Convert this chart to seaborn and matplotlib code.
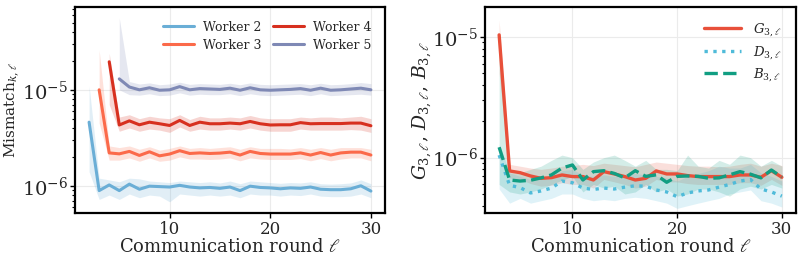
import numpy as np
import pandas as pd
import matplotlib
matplotlib.use("Agg")
import matplotlib.pyplot as plt
import seaborn as sns

# values (units of 1e-6)
rounds = np.arange(2, 31)

w2 = [4.6, 0.89, 1.02, 0.89, 1.04, 0.92, 0.99, 0.98, 0.97, 1.01, 0.97, 0.95, 0.96, 0.94, 0.97,
      0.89, 0.99, 0.96, 0.95, 0.93, 0.95, 0.94, 0.97, 0.92, 0.91, 0.91, 0.93, 1.0, 0.88]
w2_hi = [11.0, 1.2, 1.15, 1.1, 1.2, 1.18, 1.12, 1.1, 1.08, 1.12, 1.1, 1.08, 1.1, 1.07, 1.12,
         1.05, 1.12, 1.1, 1.08, 1.06, 1.08, 1.07, 1.1, 1.05, 1.04, 1.05, 1.07, 1.15, 1.05]
w2_lo = [1.4, 0.72, 0.8, 0.72, 0.82, 0.75, 0.8, 0.78, 0.68, 0.82, 0.8, 0.78, 0.8, 0.78, 0.8,
         0.75, 0.82, 0.8, 0.8, 0.78, 0.8, 0.79, 0.82, 0.78, 0.77, 0.77, 0.78, 0.82, 0.75]

w3 = [10.0, 2.2, 2.15, 2.28, 2.07, 2.26, 2.05, 2.14, 2.32, 2.17, 2.2, 2.17, 2.19, 2.24,
      2.09, 2.28, 2.17, 2.14, 2.14, 2.14, 2.2, 2.09, 2.22, 2.09, 2.2, 2.24, 2.24, 2.09]
w3_hi = [26, 2.6, 2.5, 2.6, 2.4, 2.55, 2.35, 2.45, 2.6, 2.45, 2.5, 2.45, 2.5, 2.55,
         2.4, 2.55, 2.45, 2.45, 2.45, 2.42, 2.5, 2.4, 2.5, 2.4, 2.5, 2.5, 2.5, 2.4]
w3_lo = [4.5, 1.85, 1.85, 1.95, 1.8, 1.95, 1.8, 1.85, 2.0, 1.9, 1.9, 1.88, 1.9, 1.95,
         1.82, 1.95, 1.9, 1.88, 1.88, 1.88, 1.92, 1.82, 1.92, 1.82, 1.9, 1.95, 1.95, 1.82]

w4 = [19.6, 4.3, 4.75, 4.32, 4.6, 4.43, 4.25, 4.8, 4.25, 4.6, 4.43, 4.43, 4.5, 4.43,
      4.68, 4.43, 4.3, 4.32, 4.32, 4.55, 4.43, 4.45, 4.45, 4.45, 4.5, 4.5, 4.22]
w4_hi = [24, 5.2, 5.5, 5.0, 5.3, 5.1, 5.0, 5.5, 4.9, 5.3, 5.1, 5.1, 5.2, 5.1,
         5.4, 5.1, 5.0, 5.0, 5.0, 5.2, 5.1, 5.2, 5.2, 5.1, 5.2, 5.3, 5.0]
w4_lo = [7.0, 3.7, 4.0, 3.7, 3.9, 3.8, 3.6, 4.1, 3.7, 3.9, 3.8, 3.8, 3.9, 3.8,
         4.0, 3.8, 3.7, 3.7, 3.7, 3.9, 3.8, 3.8, 3.8, 3.8, 3.85, 3.8, 3.6]

w5 = [13.0, 10.7, 10.0, 10.5, 9.9, 10.0, 10.8, 10.0, 10.3, 10.2, 10.1, 10.4, 9.9,
      10.5, 10.0, 9.9, 10.0, 10.1, 10.3, 9.9, 10.4, 9.9, 10.0, 10.2, 10.4, 10.0]
w5_hi = [56, 12.2, 11.5, 11.8, 11.3, 11.5, 12.0, 11.4, 11.6, 11.5, 11.4, 11.7, 11.3,
         11.8, 11.4, 11.3, 11.4, 11.5, 11.6, 11.3, 11.7, 11.3, 11.4, 11.6, 11.9, 11.6]
w5_lo = [10.0, 8.9, 8.8, 9.1, 8.7, 8.8, 9.3, 8.8, 9.0, 8.9, 8.9, 9.1, 8.7,
         9.1, 8.8, 8.7, 8.8, 8.9, 9.0, 8.7, 9.1, 8.7, 8.8, 8.9, 9.0, 8.8]

# worker 3 quantities, rounds 3..30
g3 = [10.4, 0.776, 0.751, 0.705, 0.674, 0.683, 0.719, 0.697, 0.697, 0.653, 0.766, 0.733, 0.697, 0.653,
      0.674, 0.776, 0.733, 0.733, 0.71, 0.697, 0.697, 0.697, 0.697, 0.719, 0.719, 0.688, 0.78, 0.688]
g3_hi = [13.8, 0.88, 0.85, 0.82, 0.8, 0.82, 0.85, 0.86, 0.88, 0.86, 0.9, 0.88, 0.86, 0.84,
         0.88, 0.92, 0.9, 0.88, 0.86, 0.85, 0.85, 0.84, 0.85, 0.88, 0.9, 0.85, 0.9, 0.86]
g3_lo = [5.0, 0.68, 0.66, 0.61, 0.58, 0.59, 0.62, 0.6, 0.6, 0.56, 0.66, 0.63, 0.6, 0.56,
         0.58, 0.66, 0.63, 0.63, 0.61, 0.6, 0.6, 0.6, 0.6, 0.62, 0.62, 0.59, 0.66, 0.59]

d3 = [1.05, 0.59, 0.565, 0.51, 0.53, 0.56, 0.64, 0.62, 0.56, 0.545, 0.56, 0.55, 0.57, 0.585,
      0.58, 0.54, 0.52, 0.475, 0.51, 0.53, 0.54, 0.57, 0.6, 0.64, 0.66, 0.55, 0.52, 0.48]
d3_hi = [1.3, 0.75, 0.7, 0.66, 0.68, 0.7, 0.78, 0.8, 0.72, 0.7, 0.72, 0.7, 0.72, 0.74,
         0.72, 0.7, 0.68, 0.64, 0.7, 0.74, 0.78, 0.85, 0.82, 0.82, 0.88, 0.75, 0.7, 0.64]
d3_lo = [0.55, 0.42, 0.46, 0.42, 0.44, 0.46, 0.5, 0.5, 0.46, 0.44, 0.45, 0.44, 0.46, 0.47,
         0.46, 0.44, 0.42, 0.38, 0.4, 0.42, 0.44, 0.46, 0.5, 0.52, 0.54, 0.44, 0.42, 0.39]

b3 = [1.22, 0.653, 0.64, 0.65, 0.68, 0.72, 0.82, 0.87, 0.653, 0.766, 0.78, 0.74, 0.68, 0.78,
      0.7, 0.72, 0.625, 0.7, 0.705, 0.7, 0.675, 0.68, 0.72, 0.766, 0.73, 0.68, 0.79, 0.69]
b3_hi = [9.0, 0.75, 0.75, 0.8, 0.85, 0.95, 1.05, 1.0, 0.8, 0.92, 1.0, 1.05, 0.95, 0.85,
         0.95, 0.8, 0.8, 0.78, 1.05, 0.85, 0.82, 0.95, 0.88, 1.05, 1.0, 0.85, 0.95, 0.85]
b3_lo = [0.6, 0.52, 0.5, 0.52, 0.55, 0.6, 0.65, 0.7, 0.52, 0.6, 0.56, 0.58, 0.5, 0.52,
         0.6, 0.52, 0.55, 0.48, 0.5, 0.55, 0.55, 0.52, 0.48, 0.55, 0.58, 0.55, 0.6, 0.56]

sns.set_style("whitegrid", {"axes.edgecolor": "black", "grid.color": "#ebebeb"})
plt.rcParams["font.family"] = ["DejaVu Serif"]
plt.rcParams["mathtext.fontset"] = "dejavuserif"

fig = plt.figure(figsize=(8.03, 2.6), dpi=100)
ax1 = fig.add_axes([75 / 803, 47 / 260, 310 / 803, 206 / 260])
ax2 = fig.add_axes([485 / 803, 47 / 260, 311 / 803, 206 / 260])

scale = 1e-6

# left panel: mismatch per worker
workers = [
    ("Worker 2", 2, w2, w2_lo, w2_hi, "#6aaed6"),
    ("Worker 3", 3, w3, w3_lo, w3_hi, "#fb6a4a"),
    ("Worker 4", 4, w4, w4_lo, w4_hi, "#d7301f"),
    ("Worker 5", 5, w5, w5_lo, w5_hi, "#7f89b5"),
]
for name, start, vals, lo, hi, col in workers:
    x = np.arange(start, 31)
    ax1.fill_between(x, np.array(lo) * scale, np.array(hi) * scale, color=col, alpha=0.2, lw=0)
    sns.lineplot(x=x, y=np.array(vals) * scale, ax=ax1, color=col, lw=2.2, label=name)

ax1.set_yscale("log")
ax1.set_ylim(5.2e-7, 7.3e-5)
ax1.set_xlim(0.6, 31.4)
ax1.set_xlabel(r"Communication round $\ell$", fontsize=13, labelpad=0)
ax1.set_ylabel(r"Mismatch$_{k,\ell}$", fontsize=11)
ax1.yaxis.set_label_coords(-0.172, 0.5)
ax1.legend(ncol=2, frameon=False, fontsize=9, loc="upper right",
           handlelength=2.5, columnspacing=0.9, handletextpad=0.7, labelspacing=0.4,
           borderaxespad=0.7)

# right panel: G, D, B for worker 3
x3 = np.arange(3, 31)
series = [
    (r"$G_{3,\ell}$", g3, g3_lo, g3_hi, "#e8503a", "-"),
    (r"$D_{3,\ell}$", d3, d3_lo, d3_hi, "#4fbbd9", ":"),
    (r"$B_{3,\ell}$", b3, b3_lo, b3_hi, "#119e82", (0, (4, 1.6))),
]
for name, vals, lo, hi, col, ls in series:
    ax2.fill_between(x3, np.array(lo) * scale, np.array(hi) * scale, color=col, alpha=0.18, lw=0)
for name, vals, lo, hi, col, ls in series:
    sns.lineplot(x=x3, y=np.array(vals) * scale, ax=ax2, color=col, lw=2.4, linestyle=ls, label=name)

ax2.set_yscale("log")
ax2.set_ylim(3.48e-7, 1.77e-5)
ax2.set_xlim(1.65, 31.35)
ax2.set_xlabel(r"Communication round $\ell$", fontsize=13, labelpad=0)
ax2.set_ylabel(r"$G_{3,\ell},\, D_{3,\ell},\, B_{3,\ell}$", fontsize=13.5)
ax2.yaxis.set_label_coords(-0.165, 0.5)
ax2.legend(frameon=False, fontsize=9.5, loc="upper right", handlelength=2.8,
           handletextpad=0.9, labelspacing=0.45, borderaxespad=0.7)

for ax in (ax1, ax2):
    ax.set_xticks([10, 20, 30])
    ax.tick_params(axis="both", which="major", length=3.5, width=1, color="black",
                   bottom=True, left=True, pad=2)
    ax.tick_params(axis="x", which="major", labelsize=12)
    ax.tick_params(axis="y", which="major", labelsize=14, pad=1.5)
    ax.tick_params(axis="y", which="minor", length=2, width=0.8, color="black", left=True)
    ax.grid(True, which="major", lw=0.8)
    ax.grid(False, which="minor")
    for sp in ax.spines.values():
        sp.set_linewidth(1.6)
        sp.set_color("black")

fig.savefig("out.png", dpi=100)
